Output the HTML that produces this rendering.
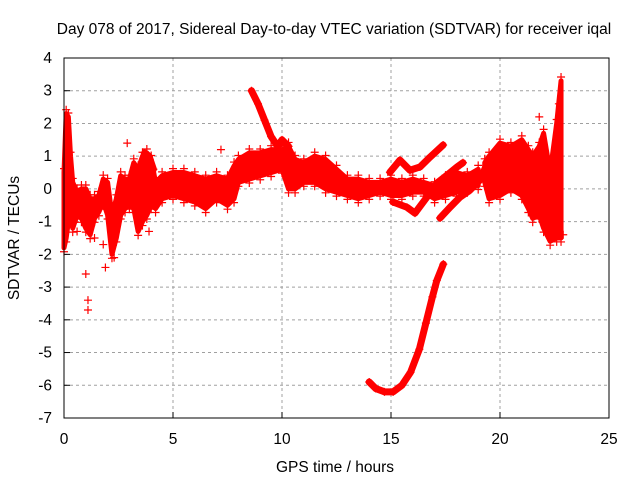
<!DOCTYPE html>
<html><head><meta charset="utf-8"><style>
body{margin:0;background:#fff}
svg text{font-family:"Liberation Sans",sans-serif;font-size:15.5px;fill:#000}
</style></head><body>
<svg id="c" width="640" height="480" xmlns="http://www.w3.org/2000/svg"></svg>
<script>
// ---- data ----
const xTicks=[0,5,10,15,20,25];
const yTicks=[-7,-6,-5,-4,-3,-2,-1,0,1,2,3,4];
// main noisy band: time, lower, upper
const bandT=[0,0.1,0.2,0.3,0.4,0.6,0.8,1.0,1.2,1.4,1.6,1.8,2.0,2.2,2.4,2.6,2.8,3.0,3.2,3.4,3.6,3.8,4.0,4.2,4.5,5.0,5.5,6.0,6.5,7.0,7.5,7.8,8.0,8.5,9.0,9.5,10.0,10.3,10.6,11.0,11.5,12.0,12.5,13.0,13.5,14.0,14.5,15.0,15.5,16.0,16.5,17.0,17.5,18.0,18.5,19.0];
const bandLo=[-1.8,-1.5,-1.0,-0.8,-1.2,-0.8,-0.9,-1.2,-1.4,-0.9,-0.7,-0.4,-0.8,-2.0,-1.5,-0.8,-0.6,-0.5,-0.6,-1.3,-1.0,-0.8,-0.5,-0.6,-0.3,-0.2,-0.3,-0.4,-0.6,-0.3,-0.5,-0.3,0.2,0.3,0.4,0.5,0.6,0.0,0.0,0.2,0.2,0.0,-0.1,-0.2,-0.3,-0.2,-0.1,-0.2,-0.2,-0.1,-0.1,-0.3,-0.2,-0.1,0.0,0.1];
const bandHi=[0.5,2.3,2.2,1.0,0.2,-0.1,0.0,0.0,-0.3,-0.3,-0.2,0.3,0.2,-0.8,-0.3,0.4,0.3,0.3,0.8,0.6,1.0,1.1,0.9,0.2,0.4,0.5,0.5,0.4,0.3,0.4,0.3,0.7,0.9,1.1,1.1,1.2,1.2,1.3,0.9,0.8,1.0,0.9,0.6,0.3,0.3,0.2,0.2,0.3,0.2,0.3,0.2,0.1,0.3,0.5,0.4,0.6];
// right-side band
const rbandT=[19.3,19.5,20.0,20.5,21.0,21.3,21.5,21.8,22.0,22.3,22.6,22.8];
const rbandLo=[0.2,-0.3,-0.2,0.0,-0.2,-0.6,-0.9,-0.8,-1.2,-1.6,-1.5,-1.5];
const rbandHi=[0.8,1.0,1.4,1.3,1.5,1.2,1.0,1.3,1.7,0.5,2.0,3.3];
// strands
const s1T=[8.6,8.9,9.2,9.5,9.8,10.0,10.3];
const s1V=[3.0,2.6,2.1,1.6,1.3,1.5,1.3];
const s2T=[14.95,15.41,15.87,16.33,16.79,17.39];
const s2V=[0.51,0.88,0.57,0.67,0.97,1.34];
const s3T=[15.09,15.73,16.1,16.65,17.11,17.57,18.03,18.3];
const s3V=[-0.40,-0.56,-0.74,-0.25,0.18,0.42,0.67,0.8];
const s4T=[17.25,17.71,18.17,18.62,19.08,19.5];
const s4V=[-0.89,-0.56,-0.25,-0.04,0.27,0.9];
const s5T=[14.0,14.3,14.7,15.1,15.5,15.9,16.3,16.6,16.9,17.1,17.4];
const s5V=[-5.9,-6.1,-6.2,-6.2,-6.0,-5.6,-4.9,-4.1,-3.3,-2.8,-2.3];
const s6T=[3.5,3.7,3.9,4.1];
const s6V=[0.2,1.1,1.0,0.6];
// outliers
const oT=[1.1,1.1,1.0,1.9,1.8,3.9,7.2,2.9,21.8,0.6,1.4,2.3,22.9,22.7];
const oV=[-3.4,-3.7,-2.6,-2.4,-1.7,-1.3,1.2,1.4,2.2,-1.3,-1.5,-2.1,-1.4,2.6];

// ---- axes ----
const X0=64,X1=609,Y0=58,Y1=418;
const sx=t=>X0+(t-0)/(25-0)*(X1-X0);
const sy=v=>Y1-(v+7)/(4+7)*(Y1-Y0);
const NS="http://www.w3.org/2000/svg";
const svg=document.getElementById('c');
function mk(tag,attrs,parent){const e=document.createElementNS(NS,tag);for(const k in attrs)e.setAttribute(k,attrs[k]);(parent||svg).appendChild(e);return e;}

const grid=mk('g',{});


xTicks.forEach(t=>{
  if(t>0&&t<25){const l=mk('line',{x1:sx(t),x2:sx(t),y1:Y0,y2:Y1,stroke:'#a0a0a0','stroke-dasharray':'3,3'},grid);
  }
  const tk=mk('line',{x1:sx(t),x2:sx(t),y1:Y1,y2:Y1-6,stroke:'#000'});
  
  const tx=mk('text',{x:sx(t),y:444,'text-anchor':'middle'});tx.textContent=t;
  
});
yTicks.forEach(v=>{
  if(v>-7&&v<4){const l=mk('line',{x1:X0,x2:X1,y1:sy(v),y2:sy(v),stroke:'#a0a0a0','stroke-dasharray':'3,3'},grid);
  }
  const tk=mk('line',{x1:X0,x2:X0+6,y1:sy(v),y2:sy(v),stroke:'#000'});
  
  const tx=mk('text',{x:52,y:sy(v)+5,'text-anchor':'end'});tx.textContent=v;
  
});

// ---- series ----
const RED='#ff0000';
function band(T,L,H,name){
  let p=T.map((t,i)=>sx(t)+','+sy(H[i]));
  for(let i=T.length-1;i>=0;i--)p.push(sx(T[i])+','+sy(L[i]));
  const e=mk('polygon',{points:p.join(' '),fill:RED,stroke:RED,'stroke-width':5,'stroke-linejoin':'round'});
  
  
  T.forEach((t,i)=>{plus(t,L[i]-0.12);plus(t,H[i]+0.12);});
}
function strand(T,V,name){
  const e=mk('polyline',{points:T.map((t,i)=>sx(t)+','+sy(V[i])).join(' '),fill:'none',stroke:RED,'stroke-width':7,'stroke-linejoin':'round','stroke-linecap':'round'});
  
  
  T.forEach((t,i)=>plus(t,V[i]));
}
function plus(t,v){
  const x=sx(t),y=sy(v);
  const e=mk('path',{d:`M${x-4},${y}H${x+4}M${x},${y-4}V${y+4}`,stroke:RED,'stroke-width':1.2});
  
  
}
band(bandT,bandLo,bandHi,'main-band');
band(rbandT,rbandLo,rbandHi,'right-band');
strand(s1T,s1V,'strand-upper-9h');
strand(s2T,s2V,'strand-15h-upper');
strand(s3T,s3V,'strand-15h-lower');
strand(s4T,s4V,'strand-17h-lowest');
strand(s5T,s5V,'strand-negative-arc');
strand(s6T,s6V,'strand-4h');
oT.forEach((t,i)=>plus(t,oV[i]));

const fr=mk('rect',{x:X0,y:Y0,width:X1-X0,height:Y1-Y0,fill:'none',stroke:'#000'});


const ti=mk('text',{x:334,y:34,'text-anchor':'middle'});
ti.textContent='Day 078 of 2017, Sidereal Day-to-day VTEC variation (SDTVAR) for receiver iqal';


const xl=mk('text',{x:335,y:472,'text-anchor':'middle'});
xl.textContent='GPS time / hours';


const yl=mk('text',{x:0,y:0,'text-anchor':'middle',transform:'translate(19,238) rotate(-90)'});
yl.textContent='SDTVAR / TECUs';


</script>
</body></html>
